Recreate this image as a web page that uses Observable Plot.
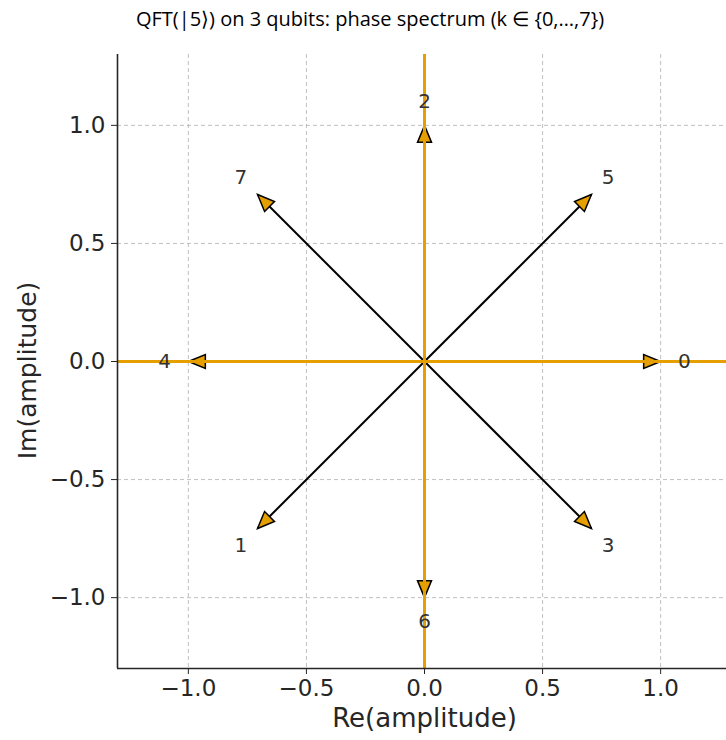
<!DOCTYPE html>
<html>
<head>
<meta charset="utf-8">
<script src="https://cdn.jsdelivr.net/npm/d3@7"></script>
<script src="https://cdn.jsdelivr.net/npm/@observablehq/plot@0.6"></script>
<style>
  html, body { margin: 0; padding: 0; background: #fff; }
  #wrap { position: relative; width: 726px; height: 740px; overflow: hidden; }
  #title { position: absolute; left: 0; width: 740px; top: 5px; text-align: center;
           font-family: "Open Sans", sans-serif; font-size: 20px; color: #000; }
  #chart { position: absolute; left: 0; top: 40px; }
</style>
</head>
<body>
<div id="wrap">
  <div id="title">QFT(|5⟩) on 3 qubits: phase spectrum (k ∈ {0,…,7})</div>
  <div id="chart"></div>
</div>
<script>
const ks = [0, 1, 2, 3, 4, 5, 6, 7];
const reAmp = [1, -0.7071, 0, 0.7071, -1, 0.7071, 0, -0.7071];
const imAmp = [0, -0.7071, 1, -0.7071, 0, 0.7071, -1, 0.7071];
const labelScale = 1.1;
const ticks = [-1, -0.5, 0, 0.5, 1];

const data = ks.map((k, i) => ({
  k: String(k), re: reAmp[i], im: imAmp[i],
  lx: reAmp[i] * labelScale, ly: imAmp[i] * labelScale,
  rot: 90 - Math.atan2(imAmp[i], reAmp[i]) * 180 / Math.PI
}));

const headSymbol = {
  draw(ctx) {
    ctx.moveTo(0, 0);
    ctx.lineTo(7, 17);
    ctx.lineTo(-7, 17);
    ctx.closePath();
  }
};

const orange = "#E69F00";
const ink = "#262626";

const chart = Plot.plot({
  width: 726,
  height: 700,
  marginLeft: 117,
  marginRight: -5,
  marginTop: 14,
  marginBottom: 72,
  style: { fontFamily: "DejaVu Sans", background: "#fff", overflow: "hidden" },
  x: { domain: [-1.3, 1.3] },
  y: { domain: [-1.3, 1.3] },
  marks: [
    Plot.gridX(ticks, { stroke: "#b0b0b0", strokeOpacity: 1, strokeWidth: 0.8, strokeDasharray: "4,3" }),
    Plot.gridY(ticks, { stroke: "#b0b0b0", strokeOpacity: 1, strokeWidth: 0.8, strokeDasharray: "4,3" }),
    Plot.link(data, { x1: 0, y1: 0, x2: "re", y2: "im", stroke: "#000", strokeWidth: 2 }),
    Plot.dot(data, { x: "re", y: "im", symbol: headSymbol, rotate: "rot", fill: orange, stroke: "#000", strokeWidth: 1.5, r: 5 }),
    Plot.ruleY([0], { stroke: orange, strokeWidth: 3 }),
    Plot.ruleX([0], { stroke: orange, strokeWidth: 3 }),
    Plot.text(data, { x: "lx", y: "ly", text: "k", fill: "#333", fontSize: 20 }),
    Plot.axisX(ticks, { tickFormat: d3.format(".1f"), tickSize: 6, tickPadding: 5, fontSize: 23, color: ink, label: null }),
    Plot.axisY(ticks, { tickFormat: d3.format(".1f"), tickSize: 6, tickPadding: 6, fontSize: 23, color: ink, label: null }),
    Plot.ruleX([-1.3], { stroke: ink, strokeWidth: 1.6 }),
    Plot.ruleY([-1.3], { stroke: ink, strokeWidth: 1.6 }),
    Plot.text(["Re(amplitude)"], { frameAnchor: "bottom", textAnchor: "middle", dy: 58, fontSize: 26, fill: ink }),
    Plot.text(["Im(amplitude)"], { frameAnchor: "left", textAnchor: "middle", dx: -90, dy: 9, rotate: -90, fontSize: 25, fill: ink })
  ]
});
document.getElementById("chart").appendChild(chart);
</script>
</body>
</html>
